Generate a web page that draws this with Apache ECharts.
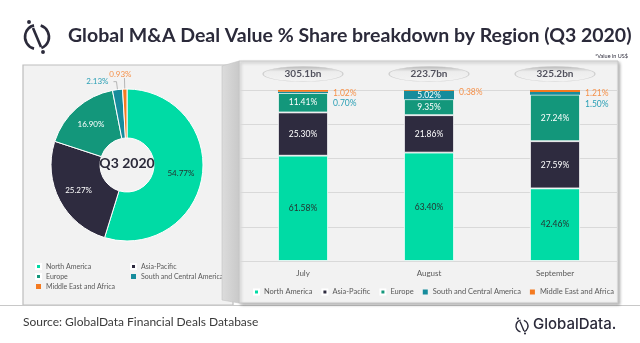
<!DOCTYPE html>
<html><head><meta charset="utf-8">
<script src="https://cdn.jsdelivr.net/npm/echarts@6/dist/echarts.min.js"></script>
<style>html,body{margin:0;padding:0;background:#fff}#chart{width:640px;height:343px}</style>
</head><body><div id="chart"></div>
<script>
// Regions and their colours
const regions = ['North America', 'Asia-Pacific', 'Europe', 'South and Central America', 'Middle East and Africa'];
const regionColors = ['#00dba5', '#2e2b3f', '#13977b', '#168c9c', '#f47a20'];

// Q3 2020 share of deal value by region (%)
const quarterShare = [54.77, 25.27, 16.90, 2.13, 0.93];

// Monthly share of deal value by region (%)
const months = ['July', 'August', 'September'];
const northAmerica = [61.58, 63.40, 42.46];
const asiaPacific = [25.30, 21.86, 27.59];
const europe = [11.41, 9.35, 27.24];
const southCentralAmerica = [0.70, 5.02, 1.50];
const middleEastAfrica = [1.02, 0.38, 1.21];
const monthTotals = ['305.1bn', '223.7bn', '325.2bn'];

const FONT = 'Lato, "Open Sans", sans-serif';
const DARK = '#2b2a3a';
const pct = v => v.toFixed(2) + '%';

const monthly = [northAmerica, asiaPacific, europe, southCentralAmerica, middleEastAfrica];

// label styling per region for the stacked bars
const insideText = ['#243330', '#ffffff', '#ffffff', '#ffffff', '#ffffff'];
function barLabel(regionIdx, monthIdx) {
  const v = monthly[regionIdx][monthIdx];
  if (regionIdx < 3 || (regionIdx === 3 && v > 3)) {
    return { show: true, position: 'inside', color: insideText[regionIdx], fontSize: 8.5, fontFamily: FONT };
  }
  if (regionIdx === 3) {
    return { show: true, position: 'right', distance: 5, offset: [0, 11], color: '#2a9fb5', fontSize: 8.5, fontFamily: FONT };
  }
  return { show: true, position: 'right', distance: 5, offset: [0, 2], color: '#f5914a', fontSize: 8.5, fontFamily: FONT };
}

const barSeries = regions.map((name, r) => ({
  name, type: 'bar', stack: 'share', barWidth: 50,
  itemStyle: { color: regionColors[r], borderColor: '#ffffff', borderWidth: r < 3 ? 0.8 : 0 },
  data: monthly[r].map((v, m) => ({ value: v, label: barLabel(r, m) })),
  label: { formatter: p => pct(p.value) },
  z: 3
}));

// donut labels
const pieLabels = [
  { position: 'inside', color: '#243330' },
  { position: 'inside', color: '#ffffff' },
  { position: 'inside', color: '#ffffff' },
  { position: 'outside', color: '#2a9fb5' },
  { position: 'outside', color: '#f5914a' }
];
const pieLines = [
  {}, {}, {},
  { show: true, length: 8, length2: 3 },
  { show: true, length: 11, length2: 0 }
];

// GlobalData mark: broken ring with a slanted stroke and two dots
function logoMark(cx, cy, r, w) {
  const k = r / 12;
  return [
    { type: 'arc', shape: { cx, cy, r, startAngle: Math.PI * 0.58, endAngle: Math.PI * 1.42 },
      style: { stroke: DARK, lineWidth: w, fill: null }, z: 100 },
    { type: 'arc', shape: { cx, cy, r, startAngle: -Math.PI * 0.4, endAngle: Math.PI * 0.38 },
      style: { stroke: DARK, lineWidth: w, fill: null }, z: 100 },
    { type: 'line', shape: { x1: cx - 4 * k, y1: cy - 9 * k, x2: cx + 4 * k, y2: cy + 10 * k },
      style: { stroke: DARK, lineWidth: w }, z: 100 },
    { type: 'circle', shape: { cx: cx - 8 * k, cy: cy - 15 * k, r: w * 0.75 }, style: { fill: DARK }, z: 100 },
    { type: 'circle', shape: { cx: cx + 6 * k, cy: cy + 15 * k, r: w * 0.75 }, style: { fill: DARK }, z: 100 }
  ];
}

const chart = echarts.init(document.getElementById('chart'), null, { renderer: 'canvas' });
chart.setOption({
  animation: false,
  backgroundColor: '#ffffff',
  textStyle: { fontFamily: FONT },
  graphic: [
    // left panel
    { type: 'rect', shape: { x: 23, y: 65, width: 210, height: 240 },
      style: { fill: '#f2f2f2', stroke: '#bdbdbd', lineWidth: 1.2 }, z: -10 },
    // separator
    { type: 'line', shape: { x1: 0, y1: 305.5, x2: 640, y2: 305.5 }, style: { stroke: '#c8c8c8', lineWidth: 1 }, z: -9 },
    // right panel: side face and front face
    { type: 'polygon', shape: { points: [[222, 66], [239, 61], [239, 303], [222, 300]] },
      style: { fill: new echarts.graphic.LinearGradient(0, 0, 1, 0, [{ offset: 0, color: '#dcdcdc' }, { offset: 1, color: '#c9c9c9' }]), stroke: '#c4c4c4', lineWidth: 0.6 }, z: 50 },
    { type: 'rect', shape: { x: 239, y: 61, width: 379, height: 242 },
      style: { fill: '#f2f2f2', stroke: '#c6c6c6', lineWidth: 1, shadowBlur: 3, shadowOffsetX: 1.5, shadowOffsetY: 1.5, shadowColor: 'rgba(0,0,0,0.3)' }, z: -7 },
    // title
    { type: 'text', left: 68, top: 26,
      style: { text: 'Global M&A Deal Value % Share breakdown by Region (Q3 2020)', font: 'bold 19.5px ' + FONT, fill: DARK }, z: 100 },
    { type: 'text', right: 12, top: 53,
      style: { text: '*Value in US$', font: '5.5px ' + FONT, fill: DARK }, z: 100 },
    // donut centre caption
    { type: 'text', x: 127, y: 163,
      style: { text: 'Q3 2020', font: 'bold 14px ' + FONT, fill: DARK, align: 'center', verticalAlign: 'middle' }, z: 100 },
    // footer
    { type: 'text', left: 23, top: 316,
      style: { text: 'Source: GlobalData Financial Deals Database', font: '12px ' + FONT, fill: '#3a3a3a' }, z: 100 },
    { type: 'text', left: 533, top: 317,
      style: { text: 'GlobalData.', font: '500 15px Inter, ' + FONT, fill: DARK }, z: 100 },
    ...logoMark(37, 37, 12, 2.6),
    ...logoMark(522, 326, 6, 1.4)
  ],
  legend: [
    { data: regions, left: 248, top: 283, itemWidth: 5, itemHeight: 5, itemGap: 9, icon: 'rect',
      textStyle: { fontSize: 7.5, color: '#595959', fontFamily: FONT }, selectedMode: false },
    { data: [regions[0], regions[2], regions[4]], orient: 'vertical', left: 30, top: 258, itemWidth: 5, itemHeight: 5, itemGap: 3, icon: 'rect',
      textStyle: { fontSize: 7, color: '#595959', fontFamily: FONT }, selectedMode: false },
    { data: [regions[1], regions[3]], orient: 'vertical', left: 125, top: 258, itemWidth: 5, itemHeight: 5, itemGap: 3, icon: 'rect',
      textStyle: { fontSize: 7, color: '#595959', fontFamily: FONT }, selectedMode: false }
  ],
  grid: { left: 240, right: 22, top: 90, bottom: 82 },
  xAxis: {
    type: 'category', data: months,
    axisLine: { show: false }, axisTick: { show: false },
    axisLabel: { color: '#595959', fontSize: 8, margin: 8, fontFamily: FONT }
  },
  yAxis: {
    type: 'value', min: 0, max: 100, interval: 20,
    axisLabel: { show: false }, axisLine: { show: false }, axisTick: { show: false },
    splitLine: { lineStyle: { color: '#d9d9d9', width: 1 } }
  },
  series: [
    {
      type: 'pie', center: [127, 165], radius: [27, 76], startAngle: 90, clockwise: true,
      avoidLabelOverlap: false,
      itemStyle: { borderColor: '#ffffff', borderWidth: 1 },
      label: { fontSize: 8, fontFamily: FONT, formatter: p => pct(p.value) },
      labelLine: { show: true, length: 8, length2: 4, lineStyle: { color: '#a6a6a6', width: 0.8 } },
      labelLayout: p => p.dataIndex === 4 ? { hideOverlap: false, dx: 12, dy: -4 } : { hideOverlap: false },
      data: regions.map((name, i) => ({
        name, value: quarterShare[i],
        itemStyle: { color: regionColors[i] },
        label: pieLabels[i],
        labelLine: pieLines[i]
      })),
      z: 3
    },
    ...barSeries,
    {
      type: 'scatter', name: 'total',
      data: months.map((m, i) => [i, 100]),
      symbol: 'circle', symbolSize: [80, 15], symbolOffset: [0, -16],
      itemStyle: {
        color: new echarts.graphic.LinearGradient(0, 0, 0, 1, [
          { offset: 0, color: '#a9a9a9' }, { offset: 0.35, color: '#ececec' }, { offset: 1, color: '#f3f3f3' }]),
        borderColor: '#c8c8c8', borderWidth: 0.6
      },
      label: { show: true, position: 'inside', formatter: p => monthTotals[p.dataIndex],
        color: DARK, fontSize: 10, fontWeight: 'bold', fontFamily: FONT },
      z: 5, silent: true
    }
  ]
});
</script></body></html>
